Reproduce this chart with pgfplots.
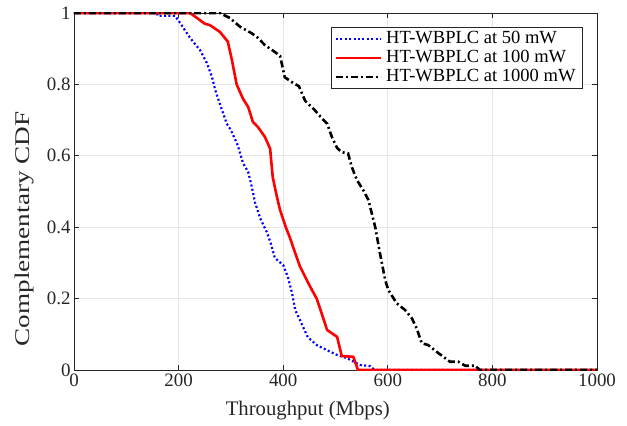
\documentclass[border=0pt]{standalone}
\usepackage{pgfplots}
\pgfplotsset{compat=1.18}
\usepackage{graphicx}
\usepackage{fontspec}
\setmainfont{Liberation Serif}
\definecolor{axgray}{HTML}{262626}
\definecolor{gridgray}{HTML}{E6E6E6}
\begin{document}
\begin{tikzpicture}
\useasboundingbox (-74bp,-56bp) rectangle (553bp,370bp);
\begin{axis}[
  anchor=south west, at={(0,0)},
  scale only axis, width=523bp, height=357bp,
  xmin=0, xmax=1000, ymin=0, ymax=1,
  xtick={0,200,400,600,800,1000},
  xticklabels={0,200,400,600,800,1000},
  ytick={0,0.2,0.4,0.6,0.8,1},
  yticklabels={0,0.2,0.4,0.6,0.8,1},
  grid=major,
  major grid style={draw=gridgray, line width=0.8bp},
  axis line style={draw=axgray, line width=0.8bp},
  tick style={draw=axgray, line width=0.8bp},
  tick align=inside,
  major tick length=5bp,
  tick label style={font=\fontsize{19}{21}\selectfont, text=axgray},
  /pgf/number format/assume math mode=true,
  xlabel={Throughput (Mbps)},
  ylabel={\scalebox{1.3}[1]{Complementary CDF}},
  xlabel style={font=\fontsize{20.8}{22}\selectfont, text=axgray, at={(axis description cs:0.447,-0.114)}, anchor=center},
  ylabel style={font=\fontsize{21}{23}\selectfont, text=axgray, at={(axis description cs:-0.094,0.395)}, anchor=center},
  legend style={at={(axis description cs:0.973,0.961)}, anchor=north east,
    draw=axgray, line width=0.8bp, font=\fontsize{18.6}{19}\selectfont,
    inner xsep=3bp, inner ysep=2bp, row sep=0bp,
    nodes={text height=13.5bp, text depth=4.5bp, inner ysep=0.5bp, inner xsep=4bp}},
  legend cell align=left,
  legend image code/.code={\draw[#1] (0bp,0bp) -- (45bp,0bp);},
]
\addplot[blue, line width=2.2bp, dash pattern=on 2bp off 2.4bp] coordinates {
(0,1) (159,1) (160,0.992) (193,0.992) (203,0.972) (222,0.93) (241,0.896) (254,0.86) (264,0.82) (270,0.784) (279,0.745) (292,0.69) (300,0.672) (313,0.63) (323,0.58) (333,0.555) (340,0.513) (346,0.47) (356,0.425) (369,0.385) (376,0.356) (384,0.314) (400,0.294) (409,0.26) (417,0.215) (423,0.168) (432,0.14) (447,0.092) (464,0.07) (483,0.056) (503,0.042) (522,0.033) (547,0.014) (566,0.011) (575,0) (1000,0)
};
\addlegendentry{HT-WBPLC at 50 mW}
\addplot[red, line width=2.6bp] coordinates {
(0,1) (222,1) (250,0.97) (260,0.966) (279,0.947) (294,0.92) (302,0.868) (311,0.8) (323,0.76) (333,0.737) (342,0.695) (352,0.68) (365,0.653) (375,0.62) (380,0.54) (388,0.485) (394,0.448) (405,0.4) (413,0.37) (420,0.34) (432,0.29) (445,0.252) (455,0.224) (464,0.2) (484,0.112) (503,0.093) (512,0.039) (534,0.037) (543,0) (1000,0)
};
\addlegendentry{HT-WBPLC at 100 mW}
\addplot[black, line width=2.6bp, dash pattern=on 7bp off 3bp on 2bp off 3bp] coordinates {
(0,1) (279,1) (298,0.986) (317,0.962) (340,0.943) (352,0.93) (365,0.91) (381,0.894) (394,0.88) (403,0.82) (419,0.804) (430,0.795) (442,0.754) (459,0.73) (474,0.705) (484,0.69) (493,0.653) (503,0.622) (512,0.61) (524,0.607) (531,0.569) (541,0.532) (553,0.504) (563,0.476) (576,0.4) (585,0.327) (595,0.252) (601,0.224) (617,0.187) (633,0.168) (646,0.145) (655,0.117) (665,0.075) (677,0.07) (697,0.047) (719,0.023) (735,0.023) (748,0.012) (767,0.012) (776,0) (1000,0)
};
\addlegendentry{HT-WBPLC at 1000 mW}
\end{axis}
\end{tikzpicture}
\end{document}
